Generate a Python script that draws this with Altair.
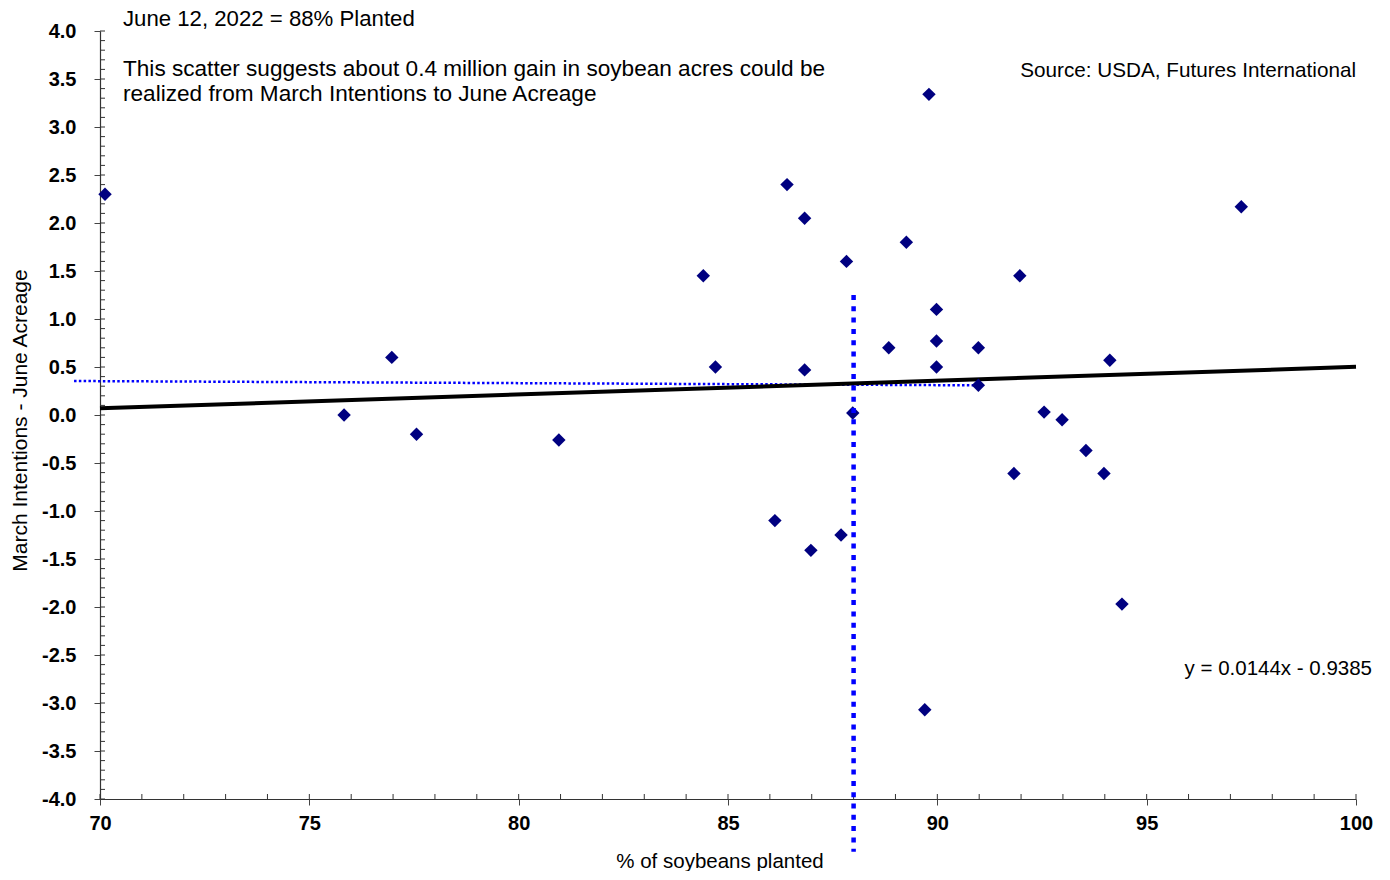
import altair as alt
import pandas as pd

# ---- data ----
pct_planted = [70.12, 75.83, 76.97, 77.56, 80.96, 84.41, 84.70, 86.41, 86.83, 86.83,
               87.83, 89.26, 88.84, 89.98, 89.98, 89.98, 90.98, 90.98, 91.97, 87.98,
               89.80, 97.26, 94.12, 92.55, 92.98, 93.55, 91.83, 93.98, 94.41, 86.12,
               87.70, 86.98, 89.70]
acre_diff = [2.30, 0.00, 0.60, -0.20, -0.26, 1.45, 0.50, 2.40, 2.05, 0.47,
             1.60, 1.80, 0.70, 1.10, 0.77, 0.50, 0.70, 0.31, 1.45, 0.02,
             3.34, 2.17, 0.57, 0.03, -0.05, -0.37, -0.61, -0.61, -1.97, -1.10,
             -1.25, -1.41, -3.07]

slope, intercept = 0.0144, -0.9385
fit_x = [70, 100]

hline_x = [69.38, 91.0]
hline_y = [0.354, 0.309]
vline_x = [88.0, 88.0]
vline_y = [1.25, -4.55]

x_major = [70, 75, 80, 85, 90, 95, 100]
y_major = [-4.0, -3.5, -3.0, -2.5, -2.0, -1.5, -1.0, -0.5, 0.0, 0.5, 1.0, 1.5, 2.0, 2.5, 3.0, 3.5, 4.0]
x_minor = list(range(70, 101))
y_minor = [i / 10 for i in range(-40, 41)]

FONT = "Liberation Sans"

pts = pd.DataFrame({"x": pct_planted, "y": acre_diff})
fit = pd.DataFrame({"x": fit_x, "y": [slope * v + intercept for v in fit_x]})
hl = pd.DataFrame({"x": hline_x, "y": hline_y})
vl = pd.DataFrame({"x": vline_x, "y": vline_y})
xm = pd.DataFrame({"x": x_minor})
ym = pd.DataFrame({"y": y_minor})

xs = alt.Scale(domain=[70, 100], nice=False, zero=False)
ys = alt.Scale(domain=[-4, 4], nice=False, zero=False)

xaxis = alt.Axis(
    values=x_major, format="d", grid=False, title="% of soybeans planted",
    labelFont=FONT, labelFontSize=20, labelFontWeight="bold", labelColor="black",
    labelPadding=8, labelFlush=False, labelOverlap=False,
    tickSize=6, tickColor="#444", domainColor="#333", domainWidth=1.2,
    titleFont=FONT, titleFontSize=20.5, titleFontWeight="normal", titleColor="black",
    titleX=619.5, titleY=68, titleBaseline="alphabetic", titleAlign="center",
)
yaxis = alt.Axis(
    values=y_major, grid=False, title="March Intentions - June Acreage",
    labelExpr="replace(format(datum.value, '.1f'), '\u2212', '-')",
    labelFont=FONT, labelFontSize=20, labelFontWeight="bold", labelColor="black",
    labelPadding=18, labelFlush=False, labelOverlap=False,
    tickSize=6, tickColor="#444", domainColor="#333", domainWidth=1.2,
    titleFont=FONT, titleFontSize=21, titleFontWeight="normal", titleColor="black",
    titleX=-74, titleY=389, titleAngle=270, titleBaseline="alphabetic", titleAlign="center",
)

X = alt.X("x:Q", scale=xs, axis=xaxis)
Y = alt.Y("y:Q", scale=ys, axis=yaxis)

hline = alt.Chart(hl).mark_line(color="#0000FF", strokeWidth=2.5, strokeDash=[2.5, 2.3]).encode(x=X, y=Y)
trend = alt.Chart(fit).mark_line(color="black", strokeWidth=4).encode(x=X, y=Y)
points = alt.Chart(pts).mark_point(shape="diamond", filled=True, size=180, color="#000080", opacity=1).encode(x=X, y=Y)
vline = alt.Chart(vl).mark_line(color="#0000FF", strokeWidth=4.5, strokeDash=[5, 6.3]).encode(x=X, y=Y)

xminor = alt.Chart(xm).mark_rule(color="#333", strokeWidth=1).encode(
    x=X, y=alt.value(763), y2=alt.value(768))
yminor = alt.Chart(ym).mark_rule(color="#333", strokeWidth=1).encode(
    y=Y, x=alt.value(0), x2=alt.value(5))


def note(text, x, y, align="left", size=22.6):
    return alt.Chart(pd.DataFrame({"t": [text]})).mark_text(
        font=FONT, fontSize=size, color="black", align=align, baseline="alphabetic"
    ).encode(text="t:N", x=alt.value(x), y=alt.value(y))


notes = [
    note("June 12, 2022 = 88% Planted", 23, -5, size=22.2),
    note("This scatter suggests about 0.4 million gain in soybean acres could be", 23, 45),
    note("realized from March Intentions to June Acreage", 23, 70),
    note("Source: USDA, Futures International", 1256, 46, align="right", size=20.7),
    note("y = 0.0144x - 0.9385", 1272, 644, align="right", size=20.5),
]

chart = alt.layer(xminor, yminor, hline, trend, points, vline, *notes).properties(
    width=1256, height=768,
    autosize=alt.AutoSizeParams(type="none"),
    padding={"left": 92, "top": 23, "right": 18, "bottom": 72},
    background="white",
).configure_view(stroke=None)

chart.save("out.html", embed_options={"renderer": "svg", "actions": False})
